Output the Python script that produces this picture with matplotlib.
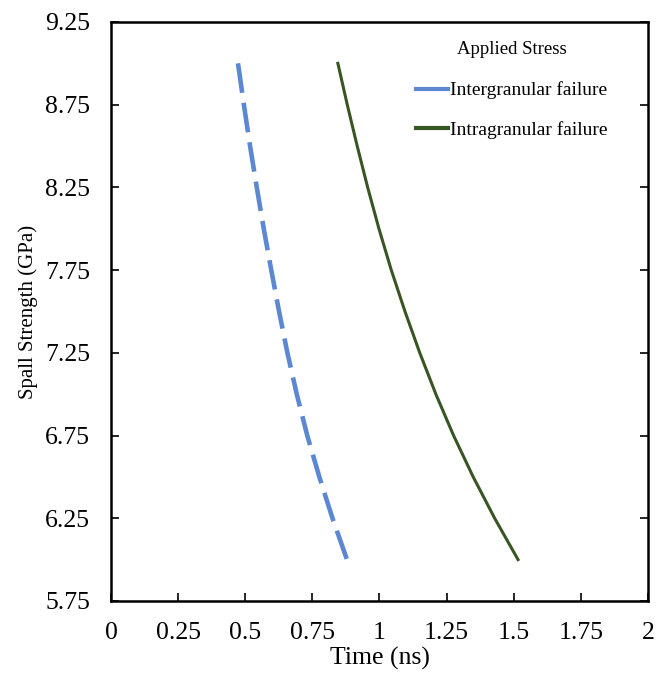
import numpy as np
import matplotlib.pyplot as plt
from matplotlib.lines import Line2D

# values
spall_strength = [9.0, 8.75, 8.5, 8.25, 8.0, 7.75, 7.5, 7.25, 7.0, 6.75, 6.5, 6.25, 6.0]  # GPa
time_inter = [0.473, 0.495, 0.518, 0.543, 0.569, 0.597, 0.626, 0.657, 0.692, 0.731, 0.776, 0.825, 0.879]  # ns
time_intra = [0.845, 0.880, 0.917, 0.956, 0.998, 1.044, 1.095, 1.150, 1.210, 1.276, 1.349, 1.429, 1.516]  # ns

x_ticks = [0, 0.25, 0.5, 0.75, 1, 1.25, 1.5, 1.75, 2]
x_tick_labels = ["0", "0.25", "0.5", "0.75", "1", "1.25", "1.5", "1.75", "2"]
y_ticks = [5.75, 6.25, 6.75, 7.25, 7.75, 8.25, 8.75, 9.25]

blue = "#5B87D3"
green = "#375623"

plt.rcParams["font.family"] = ["Liberation Serif", "DejaVu Serif"]

fig = plt.figure(figsize=(6.59, 6.78), dpi=100)
ax = fig.add_axes([0.1684, 0.1136, 0.8149, 0.854])

ax.plot(time_inter, spall_strength, color=blue, lw=3.3, dashes=(6.5, 2.2),
        dash_capstyle="butt", dash_joinstyle="round")
ax.plot(time_intra, spall_strength, color=green, lw=2.2, solid_joinstyle="round")

ax.set_xlim(0, 2)
ax.set_ylim(5.75, 9.25)
ax.set_xticks(x_ticks)
ax.set_xticklabels(x_tick_labels)
ax.set_yticks(y_ticks)
ax.set_yticklabels([f"{v:.2f}" for v in y_ticks])

ax.tick_params(axis="x", direction="in", length=6, width=1.2, labelsize=18.5, pad=15)
ax.tick_params(axis="y", direction="in", length=6, width=1.2, labelsize=18.5, pad=15,
               right=True)
for sp in ax.spines.values():
    sp.set_linewidth(1.8)
    sp.set_color("black")

ax.set_xlabel("Time (ns)", fontsize=18.5, labelpad=2)
ax.set_ylabel("Spall Strength (GPa)", fontsize=15, labelpad=5)

# legend shows solid lines for both series
handles = [Line2D([], [], color=blue, lw=3),
           Line2D([], [], color=green, lw=3)]
leg = ax.legend(handles, ["Intergranular failure", "Intragranular failure"],
                title="Applied Stress", loc="upper left",
                bbox_to_anchor=(0.55, 0.984), frameon=False, fontsize=14,
                title_fontsize=13.5, handlelength=1.65, handletextpad=0.1,
                labelspacing=1.1, borderpad=0)
leg._legend_box.sep = 17

fig.savefig("out.png", dpi=100)
